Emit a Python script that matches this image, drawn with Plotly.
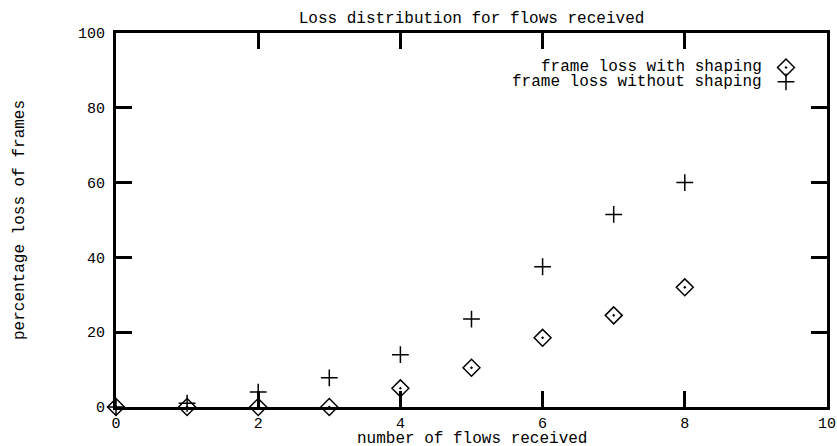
import plotly.graph_objects as go

flows = [0, 1, 2, 3, 4, 5, 6, 7, 8]
loss_with_shaping = [0, 0, 0, 0, 5.0, 10.5, 18.5, 24.5, 32.0]
loss_without_shaping = [0, 1.0, 4.0, 7.8, 14.0, 23.5, 37.5, 51.5, 60.0]
series_names = ["frame loss with shaping", "frame loss without shaping"]
x_ticks = [0, 2, 4, 6, 8, 10]
y_ticks = [0, 20, 40, 60, 80, 100]

FONT = "Liberation Mono, Courier New, monospace"

fig = go.Figure()
fig.add_trace(go.Scatter(
    x=flows, y=loss_with_shaping, mode="markers", name="", legend="legend",
    marker=dict(symbol="diamond-open-dot", size=13, color="black",
                line=dict(width=1.5, color="black")),
    cliponaxis=False,
))
fig.add_trace(go.Scatter(
    x=flows, y=loss_without_shaping, mode="markers", name="", legend="legend2",
    marker=dict(symbol="cross-thin-open", size=12, color="black",
                line=dict(width=1.5, color="black")),
    cliponaxis=False,
))

axis_common = dict(
    showline=True, linewidth=3, linecolor="black", mirror="ticks",
    ticks="inside", ticklen=16, tickwidth=3, tickcolor="black",
    showgrid=False, zeroline=False, automargin=False,
    tickfont=dict(family=FONT, size=15, color="black"),
)

fig.update_xaxes(range=[0, 10], tickvals=x_ticks, ticktext=[str(v) for v in x_ticks],
                 **axis_common)
fig.update_yaxes(range=[0, 100], tickvals=y_ticks, ticktext=[str(v) for v in y_ticks],
                 ticklabelstandoff=5, **axis_common)

fig.add_annotation(text="number of flows received", xref="paper", yref="paper",
                   x=0.5, y=-32 / 374, xanchor="center", yanchor="middle", showarrow=False,
                   font=dict(family=FONT, size=16, color="black"))
fig.add_annotation(text="percentage loss of frames", xref="paper", yref="paper",
                   x=(20 - 116) / 711, y=0.5, xanchor="center", yanchor="middle",
                   textangle=-90, showarrow=False,
                   font=dict(family=FONT, size=16, color="black"))

for i, nm in enumerate(series_names):
    fig.add_annotation(text=nm, xref="paper", yref="paper", x=0.9114, y=0.910 - 0.040 * i,
                       xanchor="right", yanchor="middle", showarrow=False,
                       font=dict(family=FONT, size=16, color="black"))

leg_common = dict(xanchor="left", yanchor="top", bgcolor="rgba(0,0,0,0)",
                  font=dict(family=FONT, size=11, color="black"), itemwidth=30)

fig.update_layout(
    width=837, height=446,
    margin=dict(l=116, r=10, t=33, b=39, autoexpand=False),
    paper_bgcolor="white", plot_bgcolor="white",
    title=dict(text="Loss distribution for flows received", x=0.5, xref="paper",
               y=1 - 17 / 446, yref="container", yanchor="middle",
               font=dict(family=FONT, size=16, color="black")),
    showlegend=True,
    legend=dict(x=0.9142, y=0.9465, **leg_common),
    legend2=dict(x=0.9142, y=0.9083, **leg_common),
)

fig.write_html("out.html")
